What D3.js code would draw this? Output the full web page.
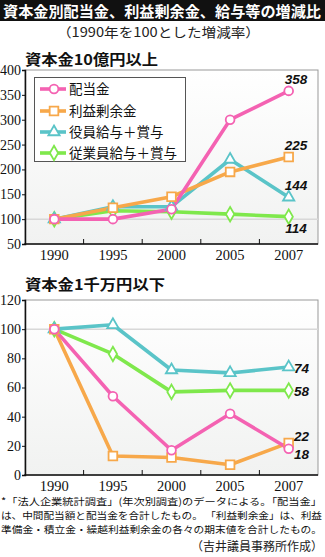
<!DOCTYPE html>
<html><head><meta charset="utf-8">
<script src="https://cdn.jsdelivr.net/npm/d3@7"></script>
<style>
html,body{margin:0;padding:0;background:#fff;}
svg{display:block;}
</style></head>
<body>
<script>
// ---- data ----
const years = ["1990","1995","2000","2005","2007"];
const seriesNames = ["配当金","利益剰余金","役員給与＋賞与","従業員給与＋賞与"];
const seriesColors = ["#f462b2","#f7a84a","#5ac4c8","#7fe84c"];
const seriesMarkers = ["circle","square","triangle","diamond"];

const large_dividend = [100,100,120,300,358];
const large_retained = [100,123,145,195,225];
const large_officer  = [100,125,125,220,144];
const large_employee = [100,117,115,110,105];
const largeEndLabels = ["358","225","144","114"];
const largeTicks = [50,100,150,200,250,300,350,400];

const small_dividend = [100,54,17,42,18];
const small_retained = [100,13,12,7,22];
const small_officer  = [100,103,72,70,74];
const small_employee = [100,83,57,58,58];
const smallEndLabels = ["18","22","74","58"];
const smallTicks = [0,20,40,60,80,100,120];

const W=325,H=557;
const svg=d3.select("body").append("svg").attr("width",W).attr("height",H);
const defs=svg.append("defs");
const grad=defs.append("linearGradient").attr("id","bg").attr("x1",0).attr("y1",0).attr("x2",0).attr("y2",1);
grad.append("stop").attr("offset","0%").attr("stop-color","#ffffff");
grad.append("stop").attr("offset","100%").attr("stop-color","#f1f2f1");

const jp="'Noto Sans CJK JP','Noto Sans',sans-serif";
const serif="'Liberation Serif','DejaVu Serif',serif";
const sans="'Liberation Sans',Arial,sans-serif";

// title bar
svg.append("rect").attr("x",0).attr("y",0).attr("width",W).attr("height",21).attr("fill","#111");
svg.append("text").attr("x",3).attr("y",16.5).attr("fill","#fff")
  .attr("font-family",jp).attr("font-weight","bold").attr("font-size",15)
  .attr("textLength",318).attr("lengthAdjust","spacingAndGlyphs")
  .text("資本金別配当金、利益剰余金、給与等の増減比");
svg.append("text").attr("x",57).attr("y",37).attr("fill","#222")
  .attr("font-family",jp).attr("font-size",13)
  .attr("textLength",203).attr("lengthAdjust","spacingAndGlyphs")
  .text("（1990年を100とした増減率）");

function marker(g,type,x,y,color){
  const s=g.append("path").attr("fill","#fff").attr("stroke",color).attr("stroke-width",1.8);
  let sym;
  if(type==="circle") sym=d3.symbol(d3.symbolCircle,60);
  else if(type==="square") sym=d3.symbol(d3.symbolSquare,75);
  else if(type==="triangle") sym=d3.symbol(d3.symbolTriangle,55);
  else sym=d3.symbol(d3.symbolDiamond,60);
  s.attr("d",sym()).attr("transform",`translate(${x},${y})`);
}

function drawChart(opt){
  const g=svg.append("g");
  const x=d3.scalePoint().domain(years).range([opt.left,opt.right]).padding(0.5);
  const y=d3.scaleLinear().domain(opt.domain).range([opt.bottom,opt.top]);
  // title
  g.append("text").attr("x",opt.left).attr("y",opt.titleY).attr("font-family",jp)
    .attr("font-weight","bold").attr("font-size",15).attr("fill","#111")
    .attr("textLength",opt.titleLen).attr("lengthAdjust","spacingAndGlyphs").text(opt.title);
  // background
  g.append("rect").attr("x",opt.left).attr("y",opt.top).attr("width",opt.right-opt.left)
    .attr("height",opt.bottom-opt.top).attr("fill","url(#bg)").attr("stroke","#999").attr("stroke-width",1);
  // 100 line
  g.append("line").attr("x1",opt.left).attr("x2",opt.right).attr("y1",y(100)).attr("y2",y(100))
    .attr("stroke","#d8d8d8").attr("stroke-width",1.5);
  // axes
  const ya=g.append("g").attr("transform",`translate(${opt.left},0)`)
    .call(d3.axisLeft(y).tickValues(opt.ticks).tickSize(3).tickPadding(1));
  ya.select(".domain").attr("stroke","#111").attr("stroke-width",1.5);
  ya.selectAll(".tick line").attr("stroke","#111");
  ya.selectAll("text").attr("font-family",serif).attr("font-size",14).attr("fill","#111");
  const step=x.step();
  const bounds=d3.range(1,years.length).map(i=>opt.left+i*step);
  g.selectAll(".xt").data(bounds).join("line").attr("x1",d=>d).attr("x2",d=>d)
    .attr("y1",opt.bottom).attr("y2",opt.bottom-5).attr("stroke","#111");
  g.append("line").attr("x1",opt.left-0.75).attr("x2",opt.right).attr("y1",opt.bottom).attr("y2",opt.bottom)
    .attr("stroke","#111").attr("stroke-width",1.5);
  g.selectAll(".xl").data(years).join("text").attr("x",d=>x(d)).attr("y",opt.bottom+16)
    .attr("text-anchor","middle").attr("font-family",serif).attr("font-size",14.5).attr("fill","#111").text(d=>d);
  // lines
  const line=d3.line().x((d,i)=>x(years[i])).y(d=>y(d));
  opt.order.forEach(k=>{
    g.append("path").datum(opt.series[k]).attr("d",line).attr("fill","none")
      .attr("stroke",seriesColors[k]).attr("stroke-width",3.6).attr("stroke-linejoin","round");
  });
  opt.order.forEach(k=>{
    opt.series[k].forEach((v,i)=>marker(g,seriesMarkers[k],x(years[i]),y(v),seriesColors[k]));
  });
  // end labels
  opt.labels.forEach((t,k)=>{
    const p=opt.labelPos[k];
    g.append("text").attr("x",p[0]).attr("y",p[1]).attr("text-anchor",p[2])
      .attr("font-family",sans).attr("font-style","italic").attr("font-weight","bold")
      .attr("font-size",13.5).attr("fill","#111").text(t);
  });
  return {x,y,g};
}

drawChart({
  left:25,right:318,top:70,bottom:244,domain:[50,400],ticks:largeTicks,
  title:"資本金10億円以上",titleY:65,titleLen:133,
  series:[large_dividend,large_retained,large_officer,large_employee],
  order:[3,2,1,0],labels:largeEndLabels,
  labelPos:[[296,84,"middle"],[296,150,"middle"],[296,190,"middle"],[296,233,"middle"]]
});
// legend
const lg=svg.append("g");
lg.append("rect").attr("x",34.5).attr("y",77.5).attr("width",151).attr("height",84).attr("fill","#fff").attr("stroke","#555").attr("stroke-width",1);
const legY=[89,111,132,153];
seriesNames.forEach((n,k)=>{
  lg.append("line").attr("x1",40).attr("x2",66).attr("y1",legY[k]).attr("y2",legY[k])
    .attr("stroke",seriesColors[k]).attr("stroke-width",3.6);
  marker(lg,seriesMarkers[k],54,legY[k],seriesColors[k]);
  lg.append("text").attr("x",69).attr("y",legY[k]+5).attr("font-family",jp).attr("font-size",13.5)
    .attr("fill","#111").text(n);
});

drawChart({
  left:25,right:318,top:300,bottom:475,domain:[0,120],ticks:smallTicks,
  title:"資本金1千万円以下",titleY:290,titleLen:140,
  series:[small_dividend,small_retained,small_officer,small_employee],
  order:[3,2,1,0],labels:smallEndLabels,
  labelPos:[[294,459,"start"],[294,441,"start"],[294,373,"start"],[294,396,"start"]]
});

// footnote (one text block, three lines)
const notes=["*「法人企業統計調査」(年次別調査)のデータによる。「配当金」",
  "は、中間配当額と配当金を合計したもの。 「利益剰余金」は、利益",
  "準備金・積立金・繰越利益剰余金の各々の期末値を合計したもの。"];
const noteY=[505,519,533];
const fn=svg.append("text").attr("font-family",jp).attr("font-size",9.6).attr("fill","#111");
notes.forEach((t,i)=>{
  fn.append("tspan").attr("x",1).attr("y",noteY[i])
    .attr("textLength",321).attr("lengthAdjust","spacingAndGlyphs").text(t);
});
svg.append("text").attr("x",323).attr("y",551).attr("text-anchor","end").attr("font-family",jp)
  .attr("font-size",12).attr("fill","#222").text("（吉井議員事務所作成）");
</script>
</body></html>
